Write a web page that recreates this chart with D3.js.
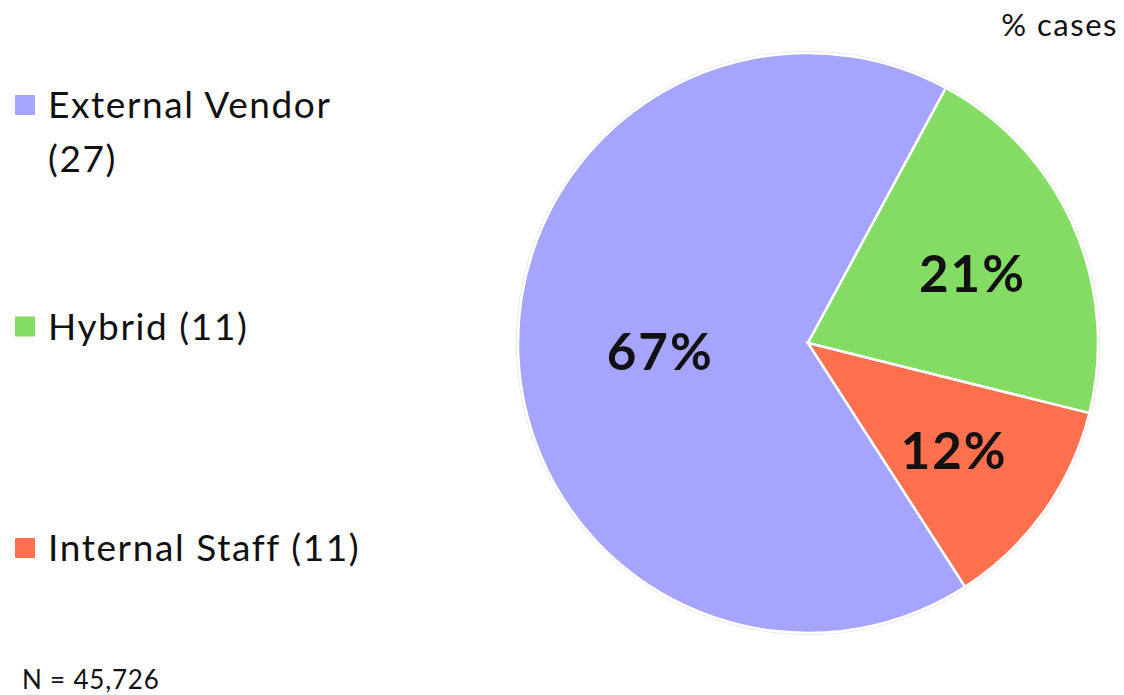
<!DOCTYPE html>
<html>
<head>
<meta charset="utf-8">
<script src="https://cdn.jsdelivr.net/npm/d3@7"></script>
<style>
    body { margin: 0; background: #fff; }
    svg { display: block; font-family: 'Lato', 'Open Sans', sans-serif; }
    .slice { stroke: #fff; stroke-width: 2.5px; }
    .outline { fill: none; stroke: #e4e4e4; stroke-width: 1px; }
    .pct { font-size: 51px; font-weight: 700; letter-spacing: 2px; fill: #111; text-anchor: middle; dominant-baseline: central; }
    .legend-text { font-size: 37px; letter-spacing: 1.6px; fill: #111; }
</style>
</head>
<body>
<div id="chart"></div>
<script>
    const categories = ['External Vendor', 'Hybrid', 'Internal Staff'];
    const counts = [27, 11, 11];
    const shares = [67, 21, 12];
    const colors = ['#a5a4fe', '#84dc64', '#ff704f'];

    const width = 1124;
    const height = 695;
    const cx = 808;
    const cy = 343;
    const radius = 290;
    const startDeg = 147.2;

    const svg = d3.select('#chart')
        .append('svg')
            .attr('width', width)
            .attr('height', height);

    const pie = d3.pie()
        .sort(null)
        .value(d => d)
        .startAngle(startDeg * Math.PI / 180)
        .endAngle(startDeg * Math.PI / 180 + 2 * Math.PI);

    const arc = d3.arc().innerRadius(0).outerRadius(radius);

    const g = svg.append('g')
        .attr('transform', 'translate(' + cx + ',' + cy + ')');

    g.append('circle')
        .attr('class', 'outline')
        .attr('r', radius + 1.5);

    const arcs = pie(shares);

    g.selectAll('path.slice')
        .data(arcs)
        .enter()
        .append('path')
        .attr('class', 'slice')
        .attr('fill', (d, i) => colors[i])
        .attr('d', arc);

    // big slice label sits closer to the middle
    g.selectAll('text.pct')
        .data(arcs)
        .enter()
        .append('text')
        .attr('class', 'pct')
        .attr('transform', d => {
            const r = radius * (d.data > 50 ? 0.51 : 0.62);
            const a = (d.startAngle + d.endAngle) / 2;
            return 'translate(' + (Math.sin(a) * r) + ',' + (-Math.cos(a) * r + 2) + ')';
        })
        .text(d => d.data + '%');

    // legend
    const legendY = d3.scalePoint()
        .domain(categories)
        .range([105, 548]);

    const legend = svg.selectAll('g.legend')
        .data(categories)
        .enter()
        .append('g')
        .attr('class', 'legend')
        .attr('transform', d => 'translate(15,' + legendY(d) + ')');

    legend.append('rect')
        .attr('x', 0)
        .attr('y', -10)
        .attr('width', 20)
        .attr('height', 20)
        .attr('fill', (d, i) => colors[i]);

    legend.append('text')
        .attr('class', 'legend-text')
        .attr('x', 33)
        .attr('y', 13)
        .each(function(d, i) {
            const t = d3.select(this);
            if (i === 0) {
                t.append('tspan').text(d);
                t.append('tspan').attr('x', 33).attr('dy', 54).text('(' + counts[i] + ')');
            } else {
                t.text(d + ' (' + counts[i] + ')');
            }
        });

    svg.append('text')
        .attr('x', 1118)
        .attr('y', 36)
        .attr('text-anchor', 'end')
        .attr('font-size', 31)
        .attr('letter-spacing', 1.5)
        .attr('fill', '#111')
        .text('% cases');

    svg.append('text')
        .attr('x', 22)
        .attr('y', 689)
        .attr('font-size', 26)
        .attr('letter-spacing', 0.8)
        .attr('fill', '#111')
        .text('N = 45,726');
</script>
</body>
</html>
